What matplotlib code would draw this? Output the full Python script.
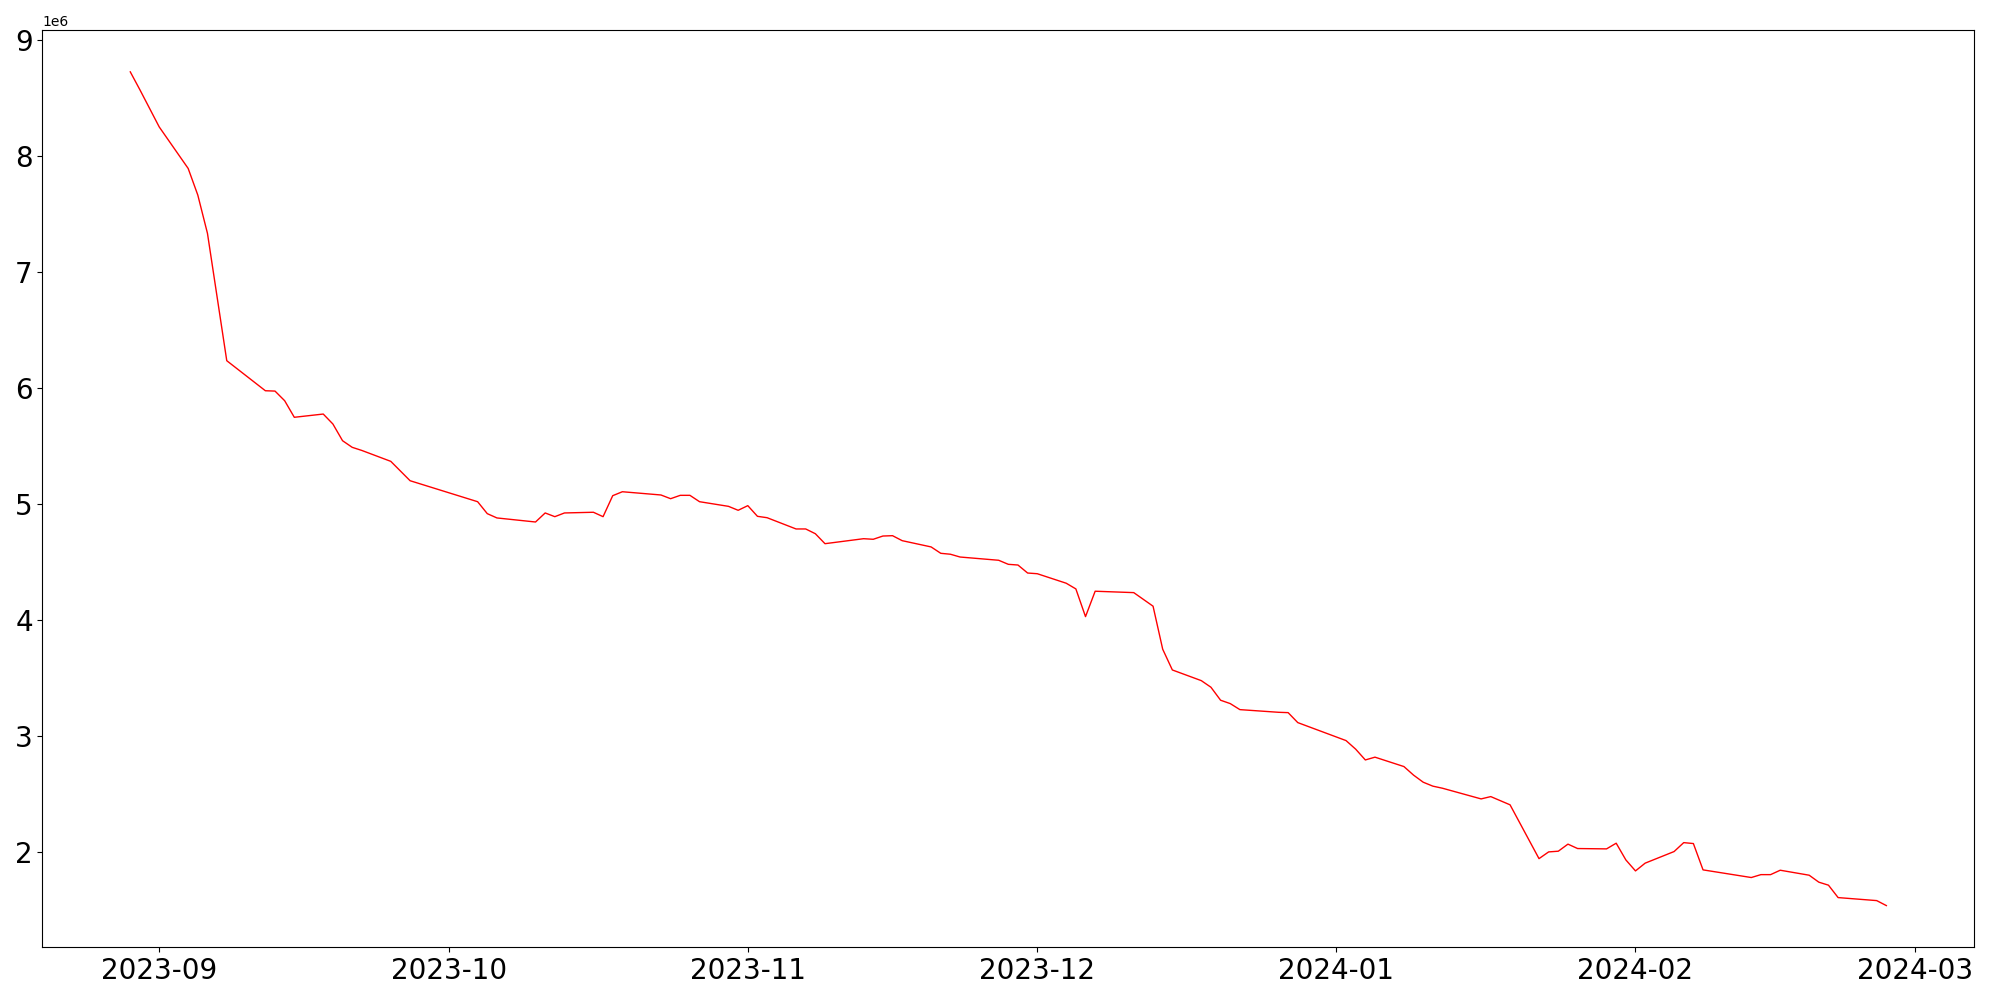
import matplotlib
matplotlib.use("Agg")
import matplotlib.pyplot as plt
import pandas as pd
import numpy as np

# trading days and values (in millions)
dates = [
    "2023-08-29", "2023-08-30", "2023-08-31", "2023-09-01", "2023-09-04", "2023-09-05",
    "2023-09-06", "2023-09-08", "2023-09-12", "2023-09-13", "2023-09-14", "2023-09-15",
    "2023-09-18", "2023-09-19", "2023-09-20", "2023-09-21", "2023-09-22", "2023-09-25",
    "2023-09-27", "2023-10-04", "2023-10-05", "2023-10-06", "2023-10-10", "2023-10-11",
    "2023-10-12", "2023-10-13", "2023-10-16", "2023-10-17", "2023-10-18", "2023-10-19",
    "2023-10-23", "2023-10-24", "2023-10-25", "2023-10-26", "2023-10-27", "2023-10-30",
    "2023-10-31", "2023-11-01", "2023-11-02", "2023-11-03", "2023-11-06", "2023-11-07",
    "2023-11-08", "2023-11-09", "2023-11-13", "2023-11-14", "2023-11-15", "2023-11-16",
    "2023-11-17", "2023-11-20", "2023-11-21", "2023-11-22", "2023-11-23", "2023-11-27",
    "2023-11-28", "2023-11-29", "2023-11-30", "2023-12-01", "2023-12-04", "2023-12-05",
    "2023-12-06", "2023-12-07", "2023-12-11", "2023-12-13", "2023-12-14", "2023-12-15",
    "2023-12-18", "2023-12-19", "2023-12-20", "2023-12-21", "2023-12-22", "2023-12-26",
    "2023-12-27", "2023-12-28", "2024-01-02", "2024-01-03", "2024-01-04", "2024-01-05",
    "2024-01-08", "2024-01-09", "2024-01-10", "2024-01-11", "2024-01-12", "2024-01-16",
    "2024-01-17", "2024-01-19", "2024-01-22", "2024-01-23", "2024-01-24", "2024-01-25",
    "2024-01-26", "2024-01-29", "2024-01-30", "2024-01-31", "2024-02-01", "2024-02-02",
    "2024-02-05", "2024-02-06", "2024-02-07", "2024-02-08", "2024-02-13", "2024-02-14",
    "2024-02-15", "2024-02-16", "2024-02-19", "2024-02-20", "2024-02-21", "2024-02-22",
    "2024-02-26", "2024-02-27",
]
values_m = [
    8.725, 8.57, 8.41, 8.25, 7.892, 7.662,
    7.332, 6.234, 5.975, 5.972, 5.889, 5.746,
    5.774, 5.688, 5.544, 5.487, 5.46, 5.366,
    5.199, 5.018, 4.915, 4.878, 4.843, 4.921,
    4.889, 4.921, 4.927, 4.889, 5.070, 5.104,
    5.076, 5.044, 5.073, 5.073, 5.018, 4.978,
    4.944, 4.984, 4.892, 4.880, 4.783, 4.783,
    4.742, 4.656, 4.699, 4.694, 4.722, 4.725,
    4.682, 4.628, 4.573, 4.565, 4.541, 4.513,
    4.478, 4.472, 4.403, 4.397, 4.315, 4.266,
    4.027, 4.246, 4.234, 4.117, 3.746, 3.567,
    3.475, 3.418, 3.306, 3.277, 3.225, 3.202,
    3.199, 3.113, 2.958, 2.884, 2.791, 2.815,
    2.734, 2.660, 2.599, 2.565, 2.547, 2.455,
    2.475, 2.404, 1.940, 1.998, 2.004, 2.065,
    2.027, 2.024, 2.073, 1.929, 1.834, 1.901,
    2.001, 2.078, 2.070, 1.843, 1.777, 1.802,
    1.802, 1.840, 1.797, 1.737, 1.711, 1.604,
    1.578, 1.535,
]

x = pd.to_datetime(dates)
y = np.array(values_m) * 1e6

fig, ax = plt.subplots(figsize=(20, 10), dpi=100)
ax.plot(x, y, color='red', linewidth=1)
plt.xticks(fontsize=20)
plt.yticks(fontsize=20)
plt.tight_layout()
plt.savefig("out.png")
